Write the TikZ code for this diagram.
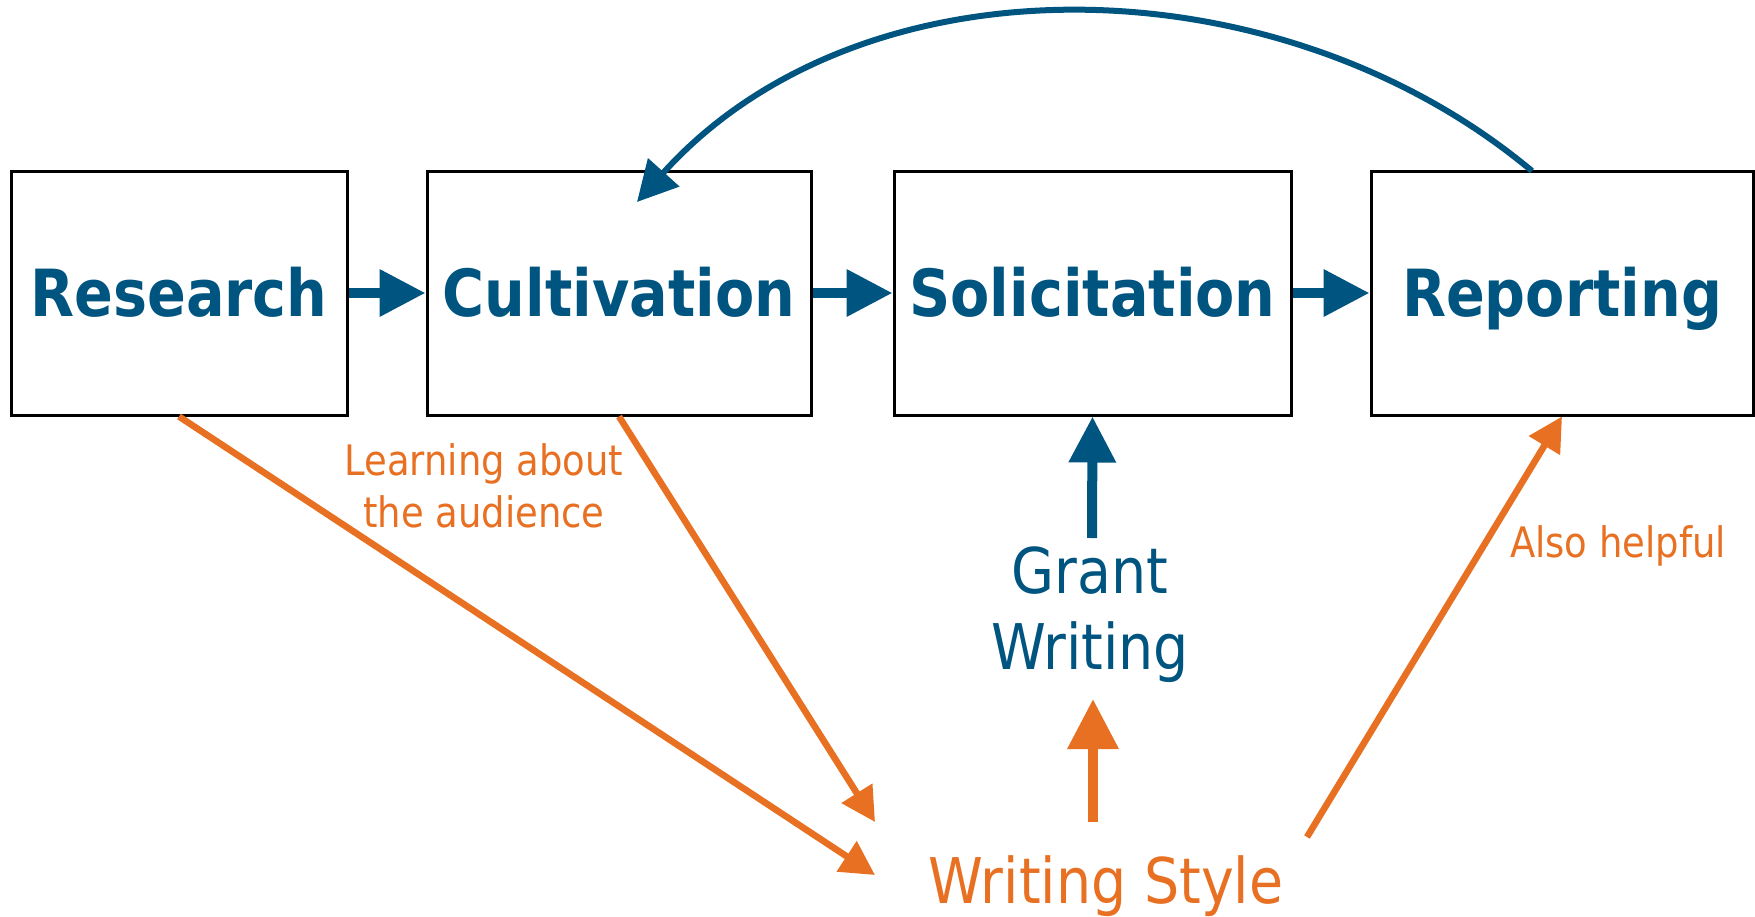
\documentclass[tikz,border=0pt]{standalone}
\usepackage{fontspec}
\setmainfont{DejaVu Sans}[FakeStretch=0.88]
\usetikzlibrary{arrows.meta}
\definecolor{cblue}{RGB}{0,84,128}
\definecolor{corange}{RGB}{232,112,34}
\tikzset{
  stagebox/.style={draw=black, line width=1.5pt, minimum height=122pt, inner sep=0pt,
    text=cblue, font=\bfseries\fontsize{32.5pt}{39pt}\selectfont, text height=23.7pt, text depth=0pt},
  bluehead/.style={-{Triangle[length=23pt,width=22.5pt]}, draw=cblue, line width=5pt},
  curvehead/.style={-{Triangle[length=20pt,width=20.5pt]}, draw=cblue, line width=3pt},
  orangeline/.style={-{Triangle[length=17pt,width=17.5pt]}, draw=corange, line width=3.3pt},
  orangeup/.style={-{Triangle[length=25pt,width=24.5pt]}, draw=corange, line width=5pt},
  bigtext/.style={font=\fontsize{31.5pt}{38pt}\selectfont, inner sep=0pt, align=center},
  smalltext/.style={font=\fontsize{21pt}{26pt}\selectfont, inner sep=0pt, align=center, text=corange},
}
\begin{document}
\begin{tikzpicture}[x=0.5pt, y=-0.5pt]
\useasboundingbox (0,0) rectangle (1755,916);
% boxes
\node[stagebox, minimum width=168pt] (res) at (179,293) {Research};
\node[stagebox, minimum width=192pt] (cul) at (619,293) {Cultivation};
\node[stagebox, minimum width=198.5pt] (sol) at (1092.5,293) {Solicitation};
\node[stagebox, minimum width=191pt] (rep) at (1562,293) {Reporting};
% horizontal arrows
\draw[bluehead] (res.east) -- (cul.west);
\draw[bluehead] (cul.east) -- (sol.west);
\draw[bluehead] (sol.east) -- (rep.west);
% feedback curve
\coordinate (fbstart) at (1532,171);
\coordinate (fbend) at (637,202);
\draw[curvehead] (fbstart) .. controls (1280,-40) and (863,-49) .. (fbend);
% texts
\node[bigtext, text=cblue] (gw) at (1090,615) {Grant\\Writing};
\node[bigtext, text=corange, anchor=base] (ws) at (1106,903) {Writing Style};
\node[smalltext] (learn) at (484,486) {Learning about\\the audience};
\node[smalltext, anchor=base] (help) at (1618,557) {Also helpful};
% coordinates for arrow ends
\coordinate (wsa) at (875,875);
\coordinate (wsb) at (875,822);
\coordinate (wsc) at (1307,837);
\coordinate (wsup) at (1093,822);
\coordinate (gwtop) at (1093,699);
\coordinate (gwbot) at (1092,538);
% orange arrows
\draw[orangeline] (res.south) -- (wsa);
\draw[orangeline] (cul.south) -- (wsb);
\draw[orangeline] (wsc) -- (rep.south);
\draw[orangeup] (wsup) -- (gwtop);
% blue up arrow
\draw[bluehead] (gwbot) -- (sol.south);
\end{tikzpicture}
\end{document}
